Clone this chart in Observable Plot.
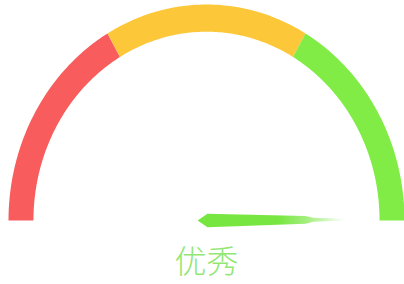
<!DOCTYPE html>
<html>
<head>
<meta charset="utf-8">
<script src="https://cdn.jsdelivr.net/npm/d3@7"></script>
<script src="https://cdn.jsdelivr.net/npm/@observablehq/plot@0.6"></script>
<style>
  html, body { margin: 0; padding: 0; background: #fff; }
  #chart svg { display: block; }
</style>
</head>
<body>
<div id="chart"></div>
<script>
// ---- data ----
const bandStarts = [0, 1/3, 2/3];
const bandEnds   = [1/3, 2/3, 1];
const bandColors = ["#f85c5c", "#fcc83a", "#80ec45"];
const gaugeMin = 0;
const gaugeMax = 100;
const gaugeValue = 99.8;
const gaugeLabel = "优秀";
const labelColor = "#92e672";
const needleColor = "#78e640";

// ---- geometry helpers (unit gauge space) ----
const innerR = 0.874;
const steps = 90;
function ring(t0, t1) {
  const pts = [];
  for (let i = 0; i <= steps; i++) {
    const t = t0 + (t1 - t0) * i / steps;
    const a = Math.PI * (1 - t);
    pts.push({x: Math.cos(a), y: Math.sin(a)});
  }
  for (let i = steps; i >= 0; i--) {
    const t = t0 + (t1 - t0) * i / steps;
    const a = Math.PI * (1 - t);
    pts.push({x: innerR * Math.cos(a), y: innerR * Math.sin(a)});
  }
  return pts;
}
const bands = bandStarts.map((s, i) => ({pts: ring(s, bandEnds[i]), color: bandColors[i]}));

// needle outline in local units (along, across)
const needleShape = [[-0.045, 0], [0.005, 0.031], [0.50, 0.018], [0.54, 0.009], [0.70, 0.004],
                     [0.70, -0.004], [0.54, -0.009], [0.50, -0.018], [0.005, -0.031]];
const frac = (gaugeValue - gaugeMin) / (gaugeMax - gaugeMin);
const ang = Math.PI * (1 - frac);
const needle = needleShape.map(([u, v]) => ({
  x: u * Math.cos(ang) - v * Math.sin(ang),
  y: u * Math.sin(ang) + v * Math.cos(ang)
}));

const labelData = [{x: 0, y: -0.197, text: gaugeLabel}];

const marks = bands.map(b => Plot.line(b.pts, {
  x: "x", y: "y", fill: b.color, stroke: "none", curve: "linear-closed",
  style: "filter: drop-shadow(0px 0px 1px rgba(0,0,0,0.28));"
}));
marks.push(Plot.line(needle, {
  x: "x", y: "y", fill: "url(#needleGrad)", stroke: "none", curve: "linear-closed",
  style: "filter: drop-shadow(0px 0px 1px rgba(0,0,0,0.2));"
}));
marks.push(Plot.text(labelData, {
  x: "x", y: "y", text: "text", fill: labelColor, fontSize: 32, fontWeight: 300,
  fontFamily: "Noto Sans CJK SC", lineAnchor: "middle"
}));

const svg = Plot.plot({
  width: 404,
  height: 284,
  margin: 0,
  x: {domain: [-1, 1], range: [8, 404], axis: null},
  y: {domain: [0, 1], range: [220, 4], axis: null},
  style: {background: "#fff", overflow: "visible"},
  marks
});

const ns = "http://www.w3.org/2000/svg";
const defs = document.createElementNS(ns, "defs");
const grad = document.createElementNS(ns, "linearGradient");
grad.setAttribute("id", "needleGrad");
grad.setAttribute("x1", "0"); grad.setAttribute("x2", "1");
grad.setAttribute("y1", "0"); grad.setAttribute("y2", "0");
[[0, 1], [0.55, 1], [0.75, 0.65], [1, 0]].forEach(([o, op]) => {
  const s = document.createElementNS(ns, "stop");
  s.setAttribute("offset", o);
  s.setAttribute("stop-color", needleColor);
  s.setAttribute("stop-opacity", op);
  grad.appendChild(s);
});
defs.appendChild(grad);
svg.insertBefore(defs, svg.firstChild);

document.getElementById("chart").appendChild(svg);
</script>
</body>
</html>
